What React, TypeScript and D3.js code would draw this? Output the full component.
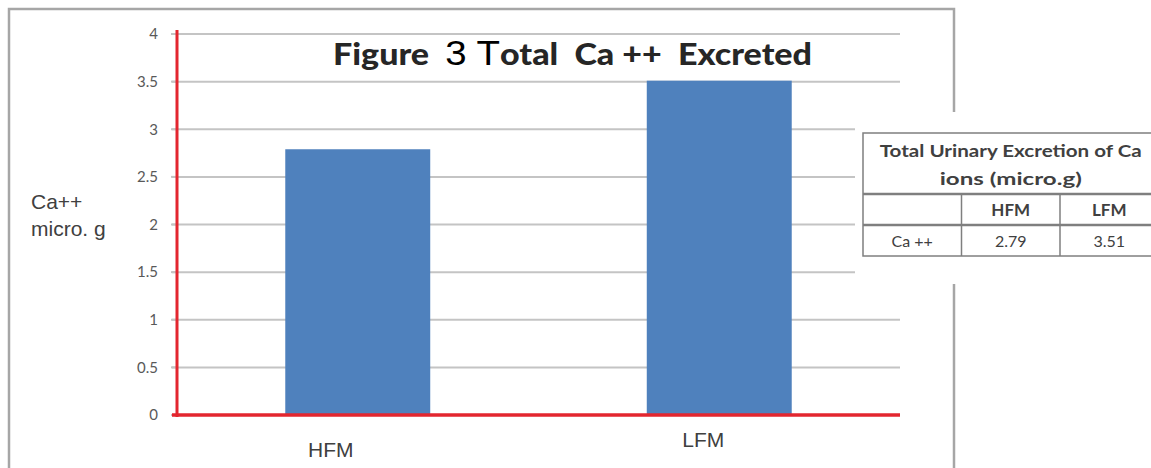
import React from 'react';
import * as d3 from 'd3';

// chart data
const categories = ['HFM', 'LFM'];
const values = [2.79, 3.51];
const yTicks = [0, 0.5, 1, 1.5, 2, 2.5, 3, 3.5, 4];

// side table
const tableTitle = ['Total Urinary Excretion of Ca', 'ions  (micro.g)'];
const tableHeader = ['', 'HFM', 'LFM'];
const tableRow = ['Ca ++', '2.79', '3.51'];

const W = 1151;
const H = 468;

const App: React.FC = () => {
  const plot = { left: 177, right: 900, top: 34, bottom: 415 };

  const x = d3.scaleBand<string>()
    .domain(categories)
    .range([plot.left, plot.right])
    .paddingInner(0.599)
    .paddingOuter(0.2995);

  const y = d3.scaleLinear().domain([0, 4]).range([plot.bottom, plot.top]);

  const red = '#e3262f';
  const grid = '#c4c4c4';
  const textGray = '#404040';
  // category labels sit a little off-centre in the original
  const labelShift = [{ dx: -27, y: 457 }, { dx: -16, y: 447 }];

  const tab = { x: 863, y: 133, colW: 98.5, titleH: 61, rowH: 31 };
  const colX = (i: number) => tab.x + i * tab.colW;
  const titleLen = [262, 142];

  return (
    <svg width={W} height={H} style={{ position: 'absolute', left: 0, top: 0, background: '#fff' }}>
      {/* outer frame */}
      <rect x={9} y={9} width={945} height={470} fill="none" stroke="#a6a6a6" strokeWidth={2.5} />

      {/* gridlines + ticks */}
      {yTicks.map(t => (
        <g key={t}>
          {t > 0 && (
            <line x1={plot.left - 5} x2={plot.right} y1={y(t)} y2={y(t)} stroke={grid} strokeWidth={2} />
          )}
          <line x1={plot.left - 6} x2={plot.left} y1={y(t)} y2={y(t)} stroke={grid} strokeWidth={2} />
          <text x={158} y={y(t)} dy="0.35em" textAnchor="end"
            fontFamily="Lato, 'Open Sans', sans-serif" fontSize={15} fill="#595959">
            {t}
          </text>
        </g>
      ))}

      {/* bars */}
      {categories.map((c, i) => (
        <rect key={c} x={x(c)} y={y(values[i])} width={x.bandwidth()} height={y(0) - y(values[i])} fill="#4f81bd" />
      ))}

      {/* axes */}
      <line x1={plot.left} x2={plot.left} y1={plot.top - 4} y2={plot.bottom + 2} stroke={red} strokeWidth={3} />
      <line x1={plot.left - 5} x2={plot.right} y1={plot.bottom} y2={plot.bottom} stroke={red} strokeWidth={3.5} />

      {/* category labels */}
      {categories.map((c, i) => (
        <text key={c} x={x(c)! + x.bandwidth() / 2 + labelShift[i].dx} y={labelShift[i].y} textAnchor="middle"
          fontFamily="'Liberation Sans', Arial, sans-serif" fontSize={21} fill={textGray}>
          {c}
        </text>
      ))}

      {/* y label */}
      <text fontFamily="'Liberation Sans', Arial, sans-serif" fontSize={21} fill={textGray}>
        <tspan x={31} y={209}>Ca++</tspan>
        <tspan x={31} y={236}>micro. g</tspan>
      </text>

      {/* title */}
      <text x={333} y={65} textLength={479} lengthAdjust="spacingAndGlyphs" style={{ whiteSpace: 'pre' }}
        fontFamily="Lato, 'Open Sans', sans-serif" fontSize={31} fontWeight="900" fill="#262626">
        <tspan>Figure  </tspan>
        <tspan fontFamily="'Liberation Sans', Arial, sans-serif" fontWeight="normal" fill="#000" fontSize={35}>3 T</tspan>
        <tspan>otal  Ca ++  Excreted</tspan>
      </text>

      {/* table */}
      <rect x={855} y={112} width={W - 855} height={172} fill="#fff" />
      <g stroke="#7f7f7f" strokeWidth={1.5} fill="none">
        <rect x={tab.x} y={tab.y} width={tab.colW * 3} height={tab.titleH + tab.rowH * 2} />
        <line x1={tab.x} x2={colX(3)} y1={tab.y + tab.titleH} y2={tab.y + tab.titleH} strokeWidth={2.5} />
        <line x1={tab.x} x2={colX(3)} y1={tab.y + tab.titleH + tab.rowH} y2={tab.y + tab.titleH + tab.rowH} strokeWidth={2.5} />
        {[1, 2].map(i => (
          <line key={i} x1={colX(i)} x2={colX(i)} y1={tab.y + tab.titleH} y2={tab.y + tab.titleH + tab.rowH * 2} />
        ))}
      </g>
      <g fontFamily="Lato, 'Open Sans', sans-serif" fill={textGray} textAnchor="middle" style={{ whiteSpace: 'pre' }}>
        {tableTitle.map((t, i) => (
          <text key={t} x={tab.x + tab.colW * 1.5} y={tab.y + 24 + i * 28} fontSize={17} fontWeight="bold"
            textLength={titleLen[i]} lengthAdjust="spacingAndGlyphs">{t}</text>
        ))}
        {tableHeader.map((t, i) => (
          <text key={'h' + i} x={colX(i) + tab.colW / 2} y={tab.y + tab.titleH + 22} fontSize={17} fontWeight="bold">{t}</text>
        ))}
        {tableRow.map((t, i) => (
          <text key={'r' + i} x={colX(i) + tab.colW / 2} y={tab.y + tab.titleH + tab.rowH + 22} fontSize={16}>{t}</text>
        ))}
      </g>
    </svg>
  );
};

export default App;
